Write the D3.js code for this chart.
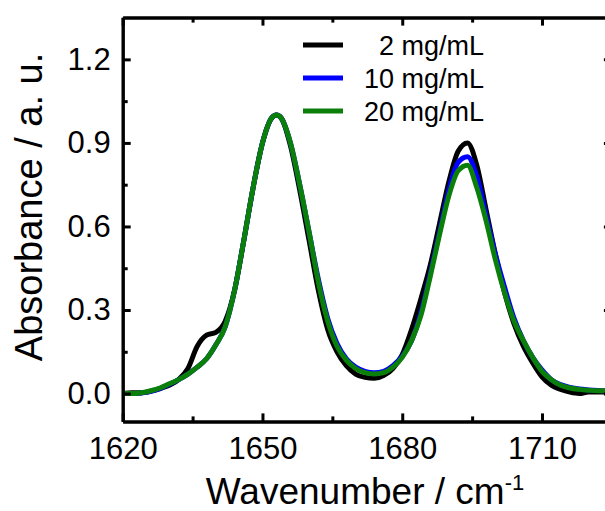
<html>
<head>
<meta charset="utf-8">
<title>FTIR amide I</title>
<script src="https://d3js.org/d3.v7.min.js"></script>
<style>
  body { margin: 0; background: #fff; }
  text { font-family: "Liberation Sans", Arial, sans-serif; fill: #000; }
  .axis path, .axis line { stroke: #000; stroke-width: 3; }
  .axis text { font-size: 31px; }
</style>
</head>
<body>
<svg width="605" height="511"></svg>
<script>
// wavenumbers (cm-1)
const wn = [1620,1622,1624,1626,1628,1630,1632,1634,1636,1638,1640,1642,1644,1646,1648,1650,1652,1653,1654,1656,1658,1660,1662,1664,1666,1668,1670,1672,1674,1676,1678,1680,1682,1684,1686,1688,1690,1692,1694,1696,1698,1700,1702,1704,1706,1708,1710,1712,1714,1716,1718,1720,1722,1724,1726];

// absorbance
const c2 = [0,0.003,0.003,0.008,0.018,0.03,0.05,0.09,0.17,0.21,0.22,0.26,0.37,0.55,0.74,0.90,0.99,1.0,0.99,0.89,0.73,0.55,0.37,0.23,0.15,0.10,0.07,0.058,0.055,0.065,0.09,0.14,0.23,0.34,0.46,0.61,0.76,0.87,0.90,0.82,0.66,0.50,0.36,0.25,0.17,0.11,0.06,0.03,0.015,0.005,0.0,0.006,0.006,0.006,0.006];
const c10 = [0,0,0.002,0.008,0.018,0.033,0.05,0.07,0.095,0.125,0.175,0.24,0.37,0.55,0.74,0.90,0.99,1.0,0.99,0.90,0.75,0.58,0.41,0.27,0.18,0.125,0.095,0.08,0.075,0.08,0.10,0.135,0.19,0.29,0.43,0.58,0.73,0.83,0.85,0.78,0.64,0.50,0.38,0.27,0.19,0.13,0.085,0.05,0.032,0.022,0.016,0.013,0.011,0.01,0.01];
const c20 = [0,0,0.003,0.01,0.02,0.035,0.05,0.07,0.095,0.125,0.175,0.24,0.37,0.55,0.74,0.90,0.99,1.0,0.99,0.90,0.75,0.58,0.40,0.26,0.17,0.12,0.09,0.075,0.07,0.075,0.095,0.13,0.19,0.28,0.42,0.57,0.71,0.80,0.82,0.74,0.62,0.48,0.36,0.26,0.19,0.13,0.08,0.05,0.03,0.02,0.015,0.012,0.01,0.01,0.01];

const seriesNames = ["2 mg/mL", "10 mg/mL", "20 mg/mL"];
const seriesColors = ["#000000", "#0000ff", "#0a800a"];
const seriesVals = [c2, c10, c20];

const xMajor = [1620, 1650, 1680, 1710];
const xMinor = [1635, 1665, 1695];
const yMajor = [0, 0.3, 0.6, 0.9, 1.2];
const yMinor = [0.15, 0.45, 0.75, 1.05];

const svg = d3.select("svg");
const mLeft = 122.7, mRight = 611.9, mTop = 17.6, mBottom = 421.4;

const x = d3.scaleLinear().domain([1620, 1725]).range([mLeft, mRight]);
const y = d3.scaleLinear().domain([-0.1, 1.35]).range([mBottom, mTop]);

const line = d3.line()
  .x((d, i) => x(wn[i]))
  .y(d => y(d))
  .curve(d3.curveMonotoneX);

svg.append("defs").append("clipPath").attr("id", "clip")
  .append("rect").attr("x", mLeft).attr("y", mTop).attr("width", mRight - mLeft).attr("height", mBottom - mTop);

const plot = svg.append("g").attr("clip-path", "url(#clip)");
seriesVals.forEach((vals, k) => {
  plot.append("path")
    .datum(vals)
    .attr("d", line)
    .attr("fill", "none")
    .attr("stroke", seriesColors[k])
    .attr("stroke-width", 5)
    .attr("stroke-linejoin", "round");
});

// axes: major + minor, ticks pointing inward
function addAxis(gen, tx, ty, vals, size, fmt, pad) {
  const a = gen.tickValues(vals).tickSizeInner(-size).tickSizeOuter(0).tickPadding(pad || 0)
    .tickFormat(fmt ? d3.format(fmt) : "");
  return svg.append("g").attr("class", "axis").attr("transform", "translate(" + tx + "," + ty + ")").call(a);
}
addAxis(d3.axisBottom(x), 0, mBottom, xMajor, 8, "d", 16);
addAxis(d3.axisBottom(x), 0, mBottom, xMinor, 5, null);
addAxis(d3.axisTop(x), 0, mTop, xMajor, 8, null);
addAxis(d3.axisTop(x), 0, mTop, xMinor, 5, null);
addAxis(d3.axisLeft(y), mLeft, 0, yMajor, 8, ".1f", 12);
addAxis(d3.axisLeft(y), mLeft, 0, yMinor, 5, null);
addAxis(d3.axisRight(y), mRight, 0, yMajor, 8, null);
addAxis(d3.axisRight(y), mRight, 0, yMinor, 5, null);

// axis titles
svg.append("text")
  .attr("x", 365).attr("y", 504)
  .attr("text-anchor", "middle")
  .attr("font-size", 37)
  .text("Wavenumber / cm")
  .append("tspan").attr("font-size", 22).attr("dy", -14).text("-1");

svg.append("text")
  .attr("transform", "translate(42,207) rotate(-90)")
  .attr("text-anchor", "middle")
  .attr("font-size", 38)
  .text("Absorbance / a. u.");

// legend
const legend = svg.append("g");
const legY = [45, 78, 111];
seriesNames.forEach((name, k) => {
  legend.append("line")
    .attr("x1", 303).attr("x2", 343)
    .attr("y1", legY[k]).attr("y2", legY[k])
    .attr("stroke", seriesColors[k]).attr("stroke-width", 5);
  legend.append("text")
    .attr("x", 484).attr("y", legY[k]).attr("dy", "0.36em")
    .attr("text-anchor", "end")
    .attr("font-size", 27)
    .text(name);
});
</script>
</body>
</html>
